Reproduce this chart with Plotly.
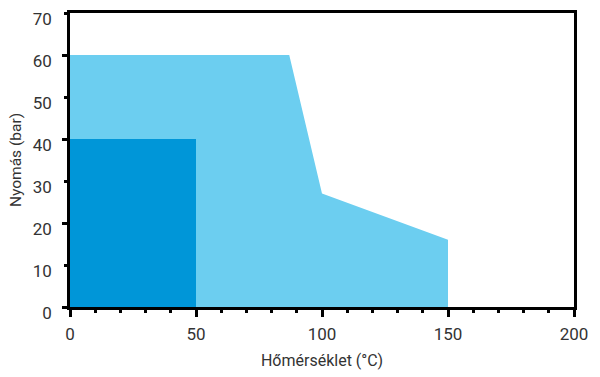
import plotly.graph_objects as go

# Data
light_x = [0, 87, 100, 150, 150, 0]
light_y = [60, 60, 27, 16, 0, 0]
dark_x = [0, 50, 50, 0]
dark_y = [0, 0, 40, 40]

x_title = "Hőmérséklet (°C)"
y_title = "Nyomás (bar)"

LIGHT = "#6CCEF0"
DARK = "#0096D8"
FONT = "Roboto"
TXT = "#333333"

fig = go.Figure()
fig.add_trace(go.Scatter(x=light_x, y=light_y, fill="toself", mode="lines",
                         line=dict(width=0, color=LIGHT), fillcolor=LIGHT,
                         hoverinfo="skip", showlegend=False))
fig.add_trace(go.Scatter(x=dark_x, y=dark_y, fill="toself", mode="lines",
                         line=dict(width=0, color=DARK), fillcolor=DARK,
                         hoverinfo="skip", showlegend=False))

fig.update_layout(
    width=600, height=377,
    margin=dict(l=70, r=26, t=13, b=70, autoexpand=False),
    paper_bgcolor="white", plot_bgcolor="white",
    font=dict(family=FONT, color=TXT),
    showlegend=False,
    xaxis=dict(
        range=[0, 200], dtick=50, tick0=0, automargin=False,
        showgrid=False, zeroline=False,
        showline=True, mirror=True, linecolor="black", linewidth=2.5,
        ticks="outside", ticklen=7, tickwidth=2.5, tickcolor="black",
        minor=dict(dtick=10, tick0=0, ticks="outside", ticklen=3, tickwidth=2.5,
                   tickcolor="black", showgrid=False),
        tickfont=dict(size=17, color=TXT, family=FONT),
        ticklabelstandoff=3,
        title=dict(text=x_title, font=dict(size=16, color=TXT, family=FONT), standoff=12),
    ),
    yaxis=dict(
        range=[0, 70], dtick=10, tick0=0, automargin=False,
        showgrid=False, zeroline=False,
        showline=True, mirror=True, linecolor="black", linewidth=2.5,
        ticks="outside", ticklen=3, tickwidth=2.5, tickcolor="black",
        tickfont=dict(size=17, color=TXT, family=FONT),
        ticklabelstandoff=9, ticklabelshift=6,
        title=dict(text=y_title, font=dict(size=15.5, color=TXT, family=FONT), standoff=8),
    ),
    yaxis2=dict(
        range=[0, 70], dtick=20, tick0=0, overlaying="y", side="left", automargin=False,
        showgrid=False, zeroline=False, showticklabels=False, showline=False,
        ticks="outside", ticklen=7, tickwidth=2.5, tickcolor="black",
    ),
)
# invisible trace to activate yaxis2
fig.add_trace(go.Scatter(x=[None], y=[None], yaxis="y2", showlegend=False, hoverinfo="skip"))

fig.write_html("out.html")
